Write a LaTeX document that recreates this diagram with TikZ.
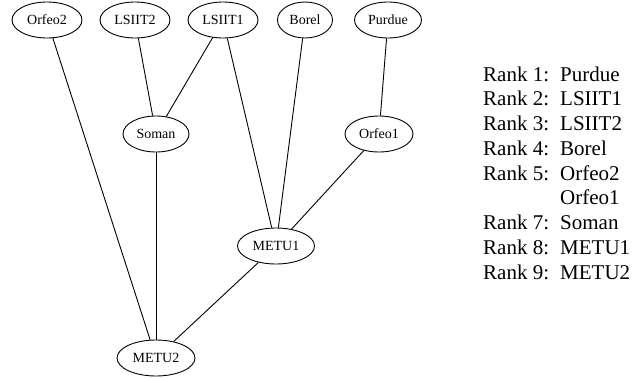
\documentclass[tikz,border=0pt]{standalone}
\usepackage{fontspec}
\setmainfont{Liberation Serif}
\usetikzlibrary{shapes.geometric}
\begin{document}
\begin{tikzpicture}[x=1pt,y=-1pt,
  gnode/.style={draw,ellipse,line width=0.9pt,inner sep=0pt,minimum height=36pt,
    font=\fontsize{14}{16}\selectfont},
  edge/.style={line width=0.9pt},
  legtext/.style={anchor=base west,inner sep=0pt,font=\fontsize{21}{24}\selectfont}]
\useasboundingbox (0,0) rectangle (643,378);
\node[gnode,minimum width=70pt] (orfeo2) at (47,20) {Orfeo2};
\node[gnode,minimum width=70pt] (lsiit2) at (135,20) {LSIIT2};
\node[gnode,minimum width=70pt] (lsiit1) at (223,20) {LSIIT1};
\node[gnode,minimum width=55pt] (borel) at (305,20) {Borel};
\node[gnode,minimum width=67pt] (purdue) at (388,20) {Purdue};
\node[gnode,minimum width=66pt] (soman) at (156,134) {Soman};
\node[gnode,minimum width=68pt] (orfeo1) at (379,134) {Orfeo1};
\node[gnode,minimum width=77pt] (metu1) at (276,246) {METU1};
\node[gnode,minimum width=78pt] (metu2) at (156,358) {METU2};
\draw[edge] (orfeo2) -- (metu2);
\draw[edge] (lsiit2) -- (soman);
\draw[edge] (lsiit1) -- (soman);
\draw[edge] (lsiit1) -- (metu1);
\draw[edge] (borel) -- (metu1);
\draw[edge] (purdue) -- (orfeo1);
\draw[edge] (soman) -- (metu2);
\draw[edge] (orfeo1) -- (metu1);
\draw[edge] (metu1) -- (metu2);
\node[legtext] (r1) at (483,81) {Rank 1:};
\node[legtext] (n1) at (560,81) {Purdue};
\node[legtext] (r2) at (483,105.75) {Rank 2:};
\node[legtext] (n2) at (560,105.75) {LSIIT1};
\node[legtext] (r3) at (483,130.5) {Rank 3:};
\node[legtext] (n3) at (560,130.5) {LSIIT2};
\node[legtext] (r4) at (483,155.25) {Rank 4:};
\node[legtext] (n4) at (560,155.25) {Borel};
\node[legtext] (r5) at (483,180) {Rank 5:};
\node[legtext] (n5) at (560,180) {Orfeo2};
\node[legtext] (n6) at (560,204.75) {Orfeo1};
\node[legtext] (r7) at (483,229.5) {Rank 7:};
\node[legtext] (n7) at (560,229.5) {Soman};
\node[legtext] (r8) at (483,254.25) {Rank 8:};
\node[legtext] (n8) at (560,254.25) {METU1};
\node[legtext] (r9) at (483,279) {Rank 9:};
\node[legtext] (n9) at (560,279) {METU2};
\end{tikzpicture}
\end{document}
